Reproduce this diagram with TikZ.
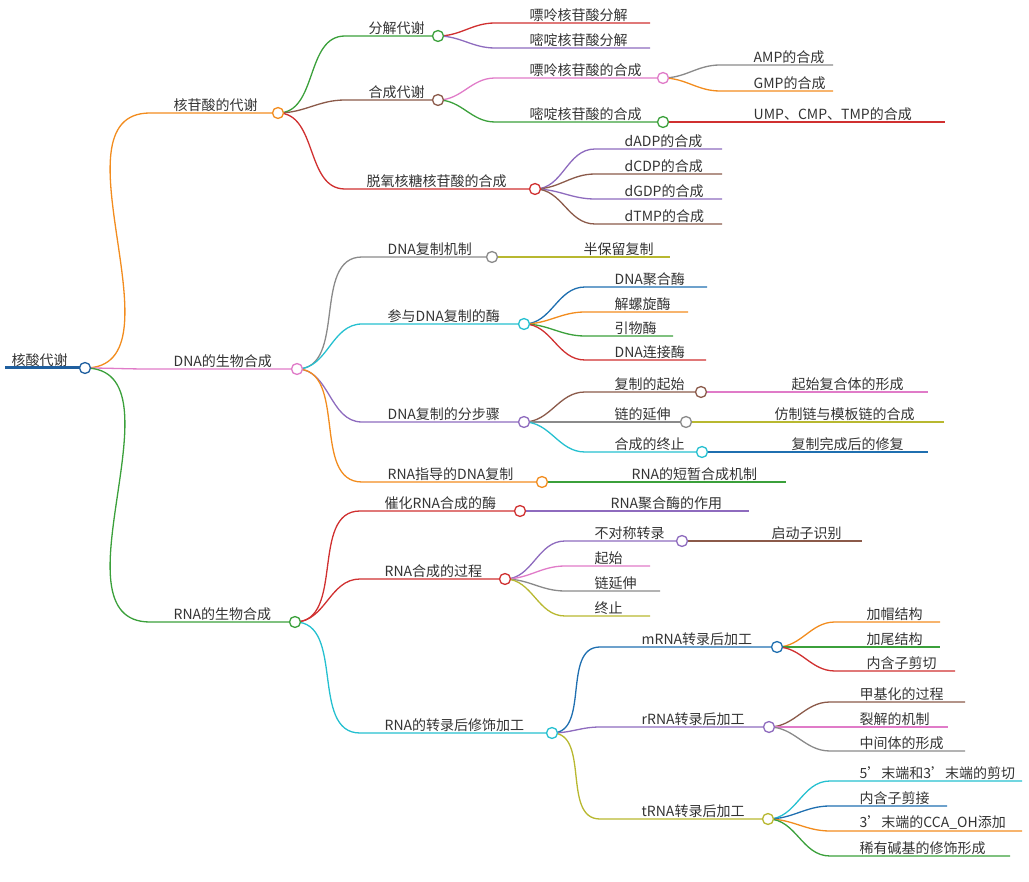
\documentclass[tikz,border=0pt]{standalone}
\usepackage{fontspec}
\setmainfont{Noto Sans CJK SC}
\usetikzlibrary{positioning}
\definecolor{mmorange}{HTML}{F28C1E}
\definecolor{mmpink}{HTML}{E07BC8}
\definecolor{mmgreen}{HTML}{3BA03B}
\definecolor{mmbrown}{HTML}{8B5A4A}
\definecolor{mmred}{HTML}{D03030}
\definecolor{mmpurple}{HTML}{8E6BBE}
\definecolor{mmgray}{HTML}{8A8A8A}
\definecolor{mmcyan}{HTML}{25C0D0}
\definecolor{mmblue}{HTML}{1F6FB0}
\definecolor{mmolive}{HTML}{B8B830}
\definecolor{mmroot}{HTML}{1F5F9F}
\tikzset{
  mmtext/.style={anchor=south west,inner sep=1.5pt,text=black!80,font=\fontsize{14}{16}\selectfont},
  mmline/.style={line width=1.3pt},
  mmdot/.style={circle,draw,fill=white,line width=1.3pt,minimum size=11pt,inner sep=0pt}
}
% #1 colour, #2 name, #3 parent, #4 line start, #5 text x, #6 line end, #7 y, #8 text
\newcommand{\mmbranch}[8]{
  \coordinate (#2-s) at (#4,#7);
  \coordinate (#2) at (#6,#7);
  \node[mmtext] (#2-t) at (#5,#7) {#8};
  \draw[mmline,#1] (#3) to[out=0,in=180] (#2-s) -- (#2);
}
\newcommand{\mmhub}[2]{\node[mmdot,draw=#1] at (#2) {};}
\begin{document}
\begin{tikzpicture}[x=1pt,y=-1pt]
  \useasboundingbox (0,0) rectangle (1029,882);
  % root
  \coordinate (root-s) at (5,368);
  \coordinate (root) at (85,368);
  \node[mmtext] (root-t) at (10,368) {核酸代谢};
  \draw[mmroot,line width=3pt] (root-s) -- (root);
  % nucleotide metabolism
  \mmbranch{mmorange}{nuc}{root}{150}{172}{278}{113}{核苷酸的代谢}
  \mmbranch{mmgreen}{deg}{nuc}{345}{367}{438}{36}{分解代谢}
  \mmbranch{mmred}{deg1}{deg}{495}{528}{650}{23}{嘌呤核苷酸分解}
  \mmbranch{mmpurple}{deg2}{deg}{495}{528}{650}{48}{嘧啶核苷酸分解}
  \mmbranch{mmbrown}{syn}{nuc}{345}{367}{438}{100}{合成代谢}
  \mmbranch{mmpink}{pur}{syn}{495}{528}{663}{78}{嘌呤核苷酸的合成}
  \mmbranch{mmgray}{amp}{pur}{720}{752}{833}{65}{AMP的合成}
  \mmbranch{mmorange}{gmp}{pur}{720}{752}{833}{91}{GMP的合成}
  \mmbranch{mmgreen}{pyr}{syn}{495}{528}{663}{122}{嘧啶核苷酸的合成}
  \mmbranch{mmred}{ump}{pyr}{720}{752}{945}{122}{UMP、CMP、TMP的合成}
  \mmbranch{mmred}{deo}{nuc}{345}{365}{535}{189}{脱氧核糖核苷酸的合成}
  \mmbranch{mmpurple}{dadp}{deo}{595}{623}{722}{149}{dADP的合成}
  \mmbranch{mmbrown}{dcdp}{deo}{595}{623}{722}{174}{dCDP的合成}
  \mmbranch{mmpurple}{dgdp}{deo}{595}{623}{722}{199}{dGDP的合成}
  \mmbranch{mmbrown}{dtmp}{deo}{595}{623}{722}{224}{dTMP的合成}
  % DNA biosynthesis
  \mmbranch{mmpink}{dna}{root}{150}{172}{297}{369}{DNA的生物合成}
  \mmbranch{mmgray}{mech}{dna}{362}{386}{492}{257}{DNA复制机制}
  \mmbranch{mmolive}{semi}{mech}{500}{582}{670}{257}{半保留复制}
  \mmbranch{mmcyan}{enz}{dna}{362}{386}{524}{324}{参与DNA复制的酶}
  \mmbranch{mmblue}{pol}{enz}{585}{613}{707}{287}{DNA聚合酶}
  \mmbranch{mmorange}{hel}{enz}{585}{613}{688}{312}{解螺旋酶}
  \mmbranch{mmgreen}{pri}{enz}{585}{613}{673}{336}{引物酶}
  \mmbranch{mmred}{lig}{enz}{585}{613}{706}{360}{DNA连接酶}
  \mmbranch{mmpurple}{step}{dna}{362}{386}{524}{422}{DNA复制的分步骤}
  \mmbranch{mmbrown}{ini}{step}{585}{613}{701}{392}{复制的起始}
  \mmbranch{mmpink}{ini1}{ini}{706}{790}{928}{392}{起始复合体的形成}
  \mmbranch{mmgray}{elo}{step}{585}{613}{686}{422}{链的延伸}
  \mmbranch{mmolive}{elo1}{elo}{691}{773}{944}{422}{仿制链与模板链的合成}
  \mmbranch{mmcyan}{ter}{step}{585}{613}{702}{452}{合成的终止}
  \mmbranch{mmblue}{ter1}{ter}{707}{790}{928}{452}{复制完成后的修复}
  \mmbranch{mmorange}{rdd}{dna}{362}{386}{542}{482}{RNA指导的DNA复制}
  \mmbranch{mmgreen}{rdd1}{rdd}{547}{630}{786}{482}{RNA的短暂合成机制}
  % RNA biosynthesis
  \mmbranch{mmgreen}{rna}{root}{150}{172}{295}{622}{RNA的生物合成}
  \mmbranch{mmred}{cat}{rna}{360}{383}{520}{511}{催化RNA合成的酶}
  \mmbranch{mmpurple}{cat1}{cat}{525}{609}{749}{511}{RNA聚合酶的作用}
  \mmbranch{mmred}{proc}{rna}{360}{383}{505}{579}{RNA合成的过程}
  \mmbranch{mmpurple}{asym}{proc}{565}{593}{682}{541}{不对称转录}
  \mmbranch{mmbrown}{prom}{asym}{687}{770}{862}{541}{启动子识别}
  \mmbranch{mmpink}{rini}{proc}{565}{593}{650}{566}{起始}
  \mmbranch{mmgray}{relo}{proc}{565}{593}{660}{591}{链延伸}
  \mmbranch{mmolive}{rter}{proc}{565}{593}{650}{616}{终止}
  \mmbranch{mmcyan}{post}{rna}{360}{383}{552}{733}{RNA的转录后修饰加工}
  \mmbranch{mmblue}{mrna}{post}{600}{640}{777}{647}{mRNA转录后加工}
  \mmbranch{mmorange}{cap}{mrna}{835}{865}{940}{622}{加帽结构}
  \mmbranch{mmgreen}{tail}{mrna}{835}{865}{940}{647}{加尾结构}
  \mmbranch{mmred}{intr}{mrna}{835}{865}{955}{671}{内含子剪切}
  \mmbranch{mmpurple}{rrna}{post}{600}{640}{769}{727}{rRNA转录后加工}
  \mmbranch{mmbrown}{meth}{rrna}{830}{858}{965}{702}{甲基化的过程}
  \mmbranch{mmpink}{clea}{rrna}{830}{858}{948}{727}{裂解的机制}
  \mmbranch{mmgray}{inter}{rrna}{830}{858}{965}{751}{中间体的形成}
  \mmbranch{mmolive}{trna}{post}{600}{640}{768}{819}{tRNA转录后加工}
  \mmbranch{mmcyan}{end}{trna}{830}{858}{1022}{781}{5'末端和3'末端的剪切}
  \mmbranch{mmblue}{splice}{trna}{830}{858}{947}{806}{内含子剪接}
  \mmbranch{mmorange}{cca}{trna}{830}{858}{1022}{831}{3'末端的CCA\_OH添加}
  \mmbranch{mmgreen}{rare}{trna}{830}{858}{1010}{856}{稀有碱基的修饰形成}
  % hubs
  \mmhub{mmroot}{root}
  \mmhub{mmorange}{nuc}
  \mmhub{mmgreen}{deg}
  \mmhub{mmbrown}{syn}
  \mmhub{mmpink}{pur}
  \mmhub{mmgreen}{pyr}
  \mmhub{mmred}{deo}
  \mmhub{mmpink}{dna}
  \mmhub{mmgray}{mech}
  \mmhub{mmcyan}{enz}
  \mmhub{mmpurple}{step}
  \mmhub{mmbrown}{ini}
  \mmhub{mmgray}{elo}
  \mmhub{mmcyan}{ter}
  \mmhub{mmorange}{rdd}
  \mmhub{mmgreen}{rna}
  \mmhub{mmred}{cat}
  \mmhub{mmred}{proc}
  \mmhub{mmpurple}{asym}
  \mmhub{mmcyan}{post}
  \mmhub{mmblue}{mrna}
  \mmhub{mmpurple}{rrna}
  \mmhub{mmolive}{trna}
\end{tikzpicture}
\end{document}
